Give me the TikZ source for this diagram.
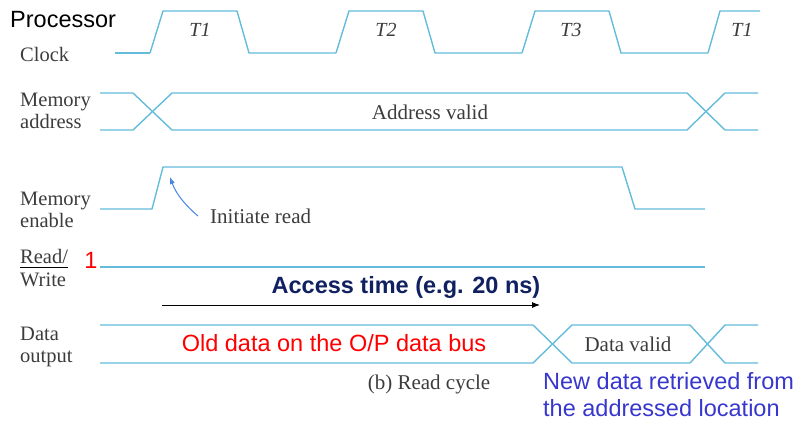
\documentclass[tikz,border=0pt]{standalone}
\usepackage{fontspec}
\setmainfont{Liberation Serif}
\setsansfont{Liberation Sans}
\usetikzlibrary{arrows.meta,positioning,calc}
\definecolor{WaveColor}{RGB}{100,188,218}
\definecolor{ScanGray}{RGB}{60,60,60}
\definecolor{NavyColor}{RGB}{16,32,96}
\definecolor{NoteBlue}{RGB}{55,55,205}
\tikzset{
  wave/.style={WaveColor, line width=1.4pt, line join=round},
  siglabel/.style={font=\fontsize{20.5}{22}\selectfont, text=ScanGray, align=left, anchor=west, inner sep=0pt},
  scantext/.style={font=\fontsize{21}{22}\selectfont, text=ScanGray, inner sep=0pt},
  phase/.style={font=\fontsize{20}{22}\selectfont\itshape, text=ScanGray, inner sep=0pt},
  note/.style={font=\sffamily\fontsize{23.5}{27}\selectfont, inner sep=0pt},
}

\begin{document}
\begin{tikzpicture}[x=1pt, y=-1pt, >=Latex]
    \useasboundingbox (0,0) rectangle (803,424);
    % signal names
    \node[note, anchor=west] (proc) at (10,20) {Processor};
    \node[siglabel] (clk) at (20,54) {Clock};
    \node[siglabel] (maddr) at (20,111) {Memory\\address};
    \node[siglabel] (men) at (20,210) {Memory\\enable};
    \node[siglabel] (rd) at (20,256) {Read/};
    \node[siglabel] (wr) at (20,280) {Write};
    \draw[black, line width=1.6pt] (20,267.5) -- (68,267.5);
    \node[note, text=red] (one) at (91,260) {1};
    \node[siglabel] (dout) at (20,347) {Data\\output};
    % clock
    \draw[wave] (115,53) -- (150,53);
    \foreach \x in {150,336,522} {
      \draw[wave] (\x,53) -- ++(13,-42) -- ++(74,0) -- ++(12,42) -- ++(87,0);
    }
    \draw[wave] (708,53) -- ++(12,-42) -- (760,11);
    \foreach \x/\t in {200/{T1},386/{T2},571/{T3},742/{T1}} {
      \node[phase] at (\x,30) {\t};
    }
    % memory address bus
    \draw[wave] (100,93) -- (133,93) -- (172,130) -- (687,130) -- (725,93) -- (758,93);
    \draw[wave] (100,130) -- (133,130) -- (172,93) -- (687,93) -- (725,130) -- (758,130);
    \node[scantext] (addrvalid) at (430,112) {Address valid};
    % memory enable
    \draw[wave] (100,209) -- (152,209) -- (163,167) -- (622,167) -- (635,209) -- (705,209);
    \coordinate (readtip) at (170,177);
    \node[scantext, anchor=west, inner xsep=12pt] (initread) at (198,216) {Initiate read};
    \draw[-{Latex[length=7pt]}, WaveColor!70!blue, line width=1pt] (initread.west) .. controls (186,206) and (176,194) .. (readtip);
    % read/write
    \draw[wave] (100,267) -- (705,267);
    % access time
    \node[note, font=\sffamily\bfseries\fontsize{23.5}{27}\selectfont, text=NavyColor] (acc) at (406,287) {Access time (e.g. 20 ns)};
    \coordinate (accstart) at (162,305);
    \coordinate (accend) at (540,305);
    \draw[-{Latex[length=8pt]}, black, line width=0.9pt] (accstart) -- (accend);
    % data output bus
    \draw[wave] (100,325) -- (533,325) -- (572,363) -- (690,363) -- (725,325) -- (758,325);
    \draw[wave] (100,363) -- (533,363) -- (572,325) -- (690,325) -- (725,363) -- (758,363);
    \node[note, text=red] (olddata) at (334,343) {Old data on the O/P data bus};
    \node[scantext] (datavalid) at (628,344) {Data valid};
    \node[scantext] (caption) at (429,384) {(b) Read cycle};
    \node[note, text=NoteBlue, anchor=north west, align=left, font=\sffamily\fontsize{23.5}{27}\selectfont] (newdata) at (543,372) {New data retrieved from\\the addressed location};
  \end{tikzpicture}
\end{document}
